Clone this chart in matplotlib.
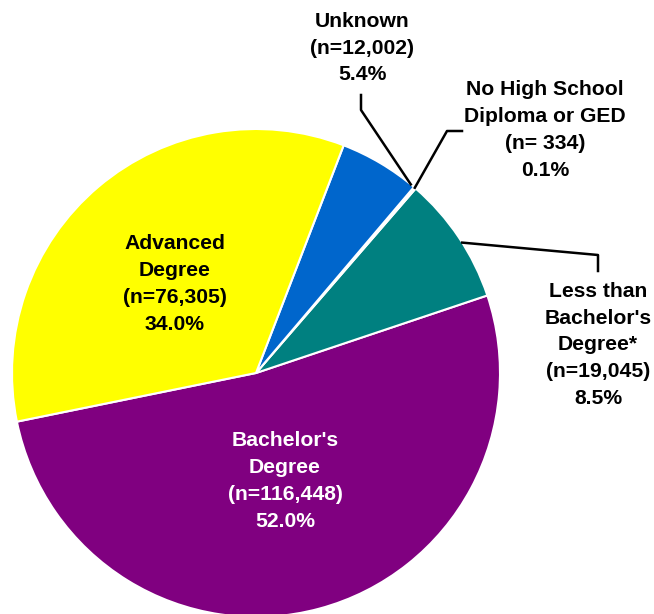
import numpy as np
import matplotlib.pyplot as plt

# Datos del gráfico
categorias = ["Bachelor's\nDegree", "Less than\nBachelor's\nDegree*",
              "No High School\nDiploma or GED", "Unknown", "Advanced\nDegree"]
conteos = [116448, 19045, 334, 12002, 76305]
n_textos = ["(n=116,448)", "(n=19,045)", "(n= 334)", "(n=12,002)", "(n=76,305)"]
colores = ["#800080", "#008080", "#FFFFFF", "#0066CC", "#FFFF00"]

W, H = 654, 614
fig = plt.figure(figsize=(W / 100, H / 100), dpi=100)
ax = fig.add_axes([0, 0, 1, 1])

cx, cy, r = 256, H - 373, 244
wedges, _ = ax.pie(conteos, colors=colores, startangle=191.5, counterclock=True,
                   center=(cx, cy), radius=r,
                   wedgeprops=dict(edgecolor="white", linewidth=1.5))
ax.set_xlim(0, W)
ax.set_ylim(0, H)
ax.set_aspect("equal")
ax.axis("off")

total = sum(conteos)
etiquetas = [f"{c}\n{n}\n{v / total * 100:.1f}%" for c, n, v in zip(categorias, n_textos, conteos)]

fuente = dict(family=["Liberation Sans", "DejaVu Sans"], weight="bold", fontsize=15.2,
              ha="center", va="center", linespacing=1.52)

# posiciones de las etiquetas (pixeles desde arriba)
pos = [(285, 481), (598, 345), (545, 130), (362, 48), (175, 284)]
color_txt = ["white", "black", "black", "black", "black"]
for et, (x, y), col in zip(etiquetas, pos, color_txt):
    ax.text(x, H - y, et, color=col, **fuente)


def borde(w, frac):
    ang = np.deg2rad(w.theta1 + (w.theta2 - w.theta1) * frac)
    return cx + r * np.cos(ang), cy + r * np.sin(ang)


# lineas guia
x0, y0 = borde(wedges[3], 0.05)
ax.plot([361, 361, x0], [H - 95, H - 110, y0], color="black", lw=1.8)
x0, y0 = borde(wedges[2], 0.5)
ax.plot([462, 447, x0], [H - 131, H - 131, y0], color="black", lw=1.8)
x0, y0 = borde(wedges[1], 0.45)
ax.plot([x0, 598, 598], [y0, H - 255, H - 271], color="black", lw=1.8)

fig.savefig("out.png", dpi=100)
